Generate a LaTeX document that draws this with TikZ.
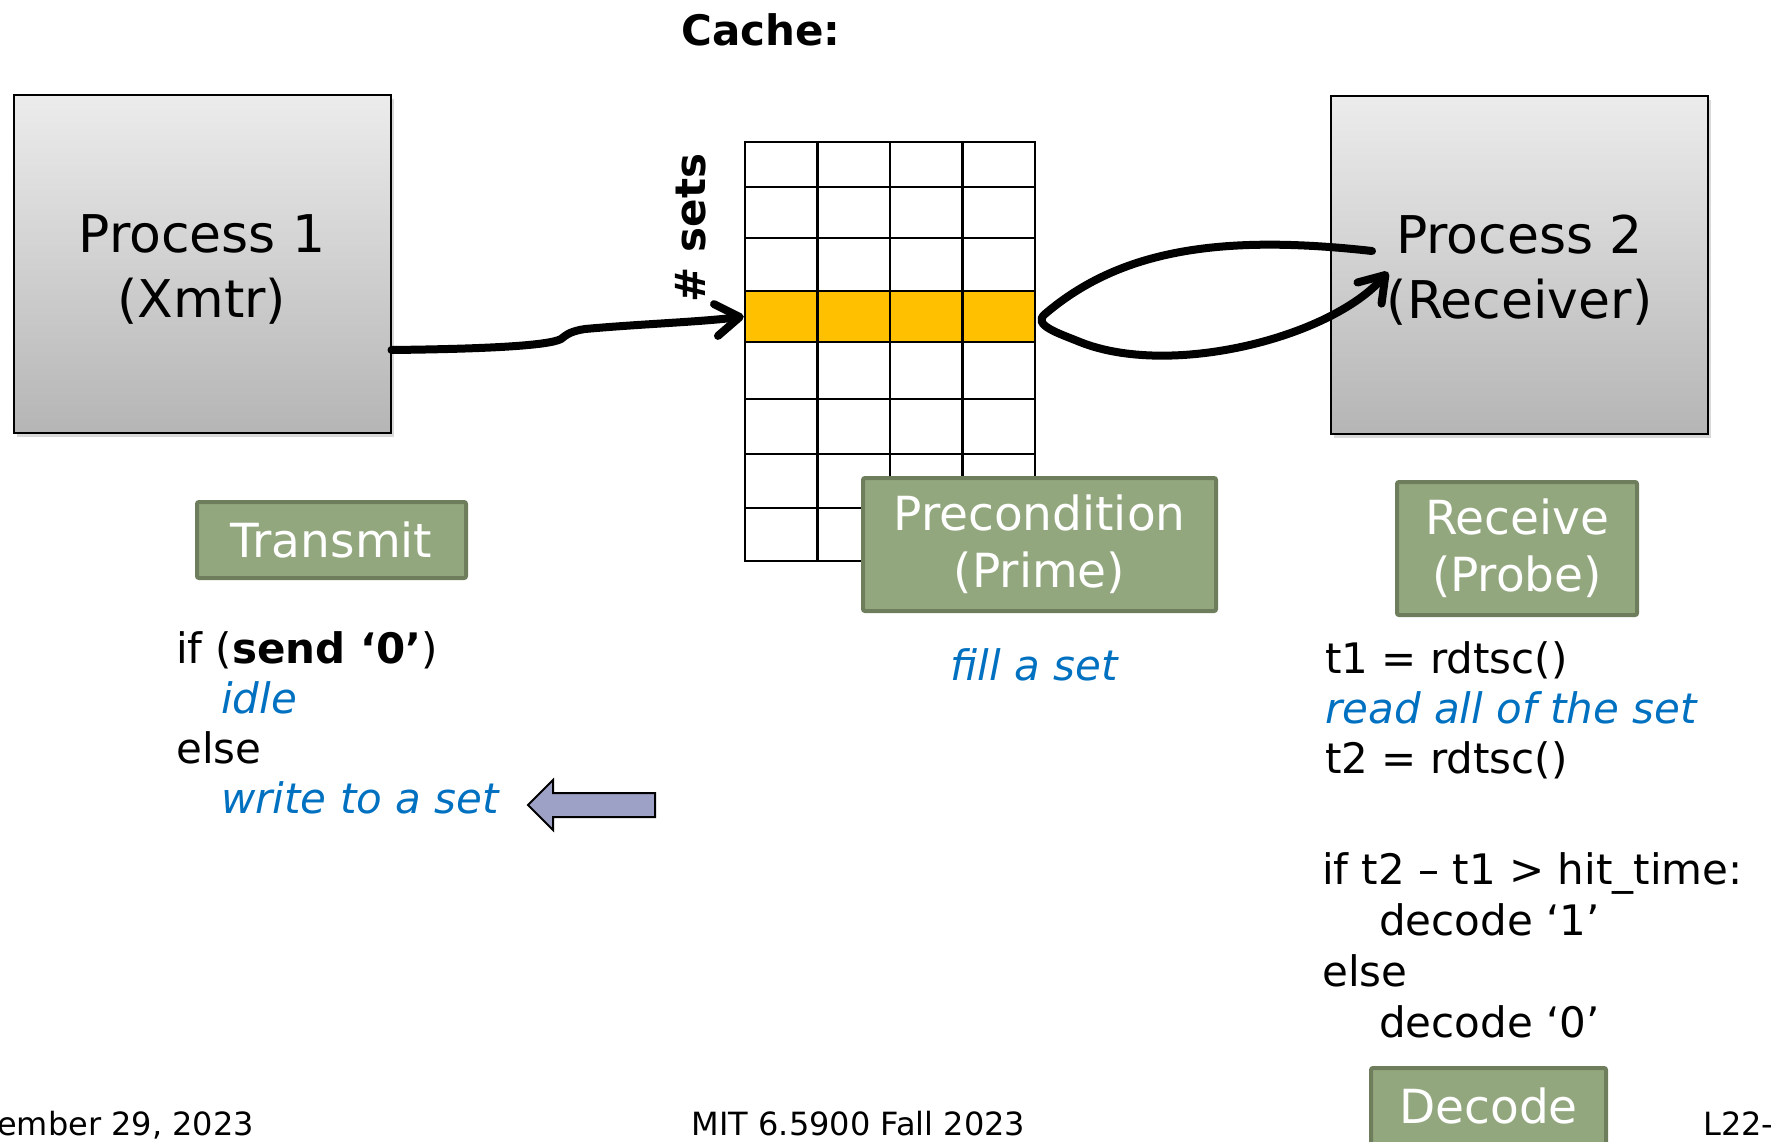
\documentclass[tikz,border=0pt]{standalone}
\usepackage{fontspec}
\setmainfont{DejaVu Sans}
\usetikzlibrary{arrows.meta,shadows}
\definecolor{stagefill}{HTML}{93A77E}
\definecolor{stageedge}{HTML}{6E7E5C}
\definecolor{setyellow}{HTML}{FFC000}
\definecolor{noteblue}{HTML}{0070C0}
\definecolor{pointer}{HTML}{9EA1C6}
\tikzset{
  proc/.style={draw=black, line width=2pt, top color=gray!15, bottom color=gray!58,
    minimum width=377pt, minimum height=338pt, align=center,
    font=\fontsize{52}{65}\selectfont,
    drop shadow={shadow xshift=3pt, shadow yshift=-4pt, opacity=.3}},
  proclabel/.style={align=center, font=\fontsize{52}{65}\selectfont},
  stage/.style={draw=stageedge, fill=stagefill, line width=4pt, rounded corners=2pt,
    text=white, align=center, inner sep=0pt, font=\fontsize{47}{57}\selectfont},
  code/.style={anchor=base west, inner sep=0pt, font=\fontsize{42}{50}\selectfont},
  note/.style={code, text=noteblue, font=\fontsize{42}{50}\selectfont\itshape},
  foot/.style={anchor=base, inner sep=0pt, font=\fontsize{32}{38}\selectfont},
  cell/.style={draw=black, line width=2.5pt, fill=setyellow, minimum width=72.5pt,
    minimum height=51pt, inner sep=0pt},
  wire/.style={line width=8pt, line cap=round,
    -{Straight Barb[length=24pt, width=32pt, round]}}
}
\begin{document}
\begin{tikzpicture}[x=1pt, y=-1pt]
  \useasboundingbox (0,0) rectangle (1776,1141);

  % the two processes
  \node[proc] (p1) at (202,264) {};
  \node[proc] (p2) at (1519.5,265) {};
  \node[proclabel] (p1txt) at (202,269) {Process 1\\(Xmtr)};
  \node[proclabel] (p2txt) at (1519.5,270) {Process 2\\(Receiver)};

  % the cache
  \node[anchor=base, font=\bfseries\fontsize{42}{50}\selectfont] (cache) at (761,45) {Cache:};
  \node[rotate=90, font=\bfseries\fontsize{42}{50}\selectfont] (nsets) at (691,228) {\# sets};
  \draw[line width=2.5pt] (745,142) rectangle (1035,561);
  \foreach \x in {817.5,890,962.5}
    \draw[line width=2.5pt] (\x,142) -- (\x,561);
  \foreach \y in {187,238,291,342,399,454,508}
    \draw[line width=2.5pt] (745,\y) -- (1035,\y);
  \foreach \i in {1,...,4}
    \node[cell] (s\i) at (708.75+72.5*\i,316.5) {};

  % prime + probe arrows
  \coordinate (lpa) at (1372,251);
  \coordinate (lpb) at (1388,272);
  \draw[wire] ([yshift=-86pt]p1.east) .. controls (480,349) and (548,346) .. (561,339)
    .. controls (567,334) and (572,331) .. (585,329)
    .. controls (640,324) and (700,322) .. (s1.west);
  \draw[wire] (lpa) .. controls (1220,234) and (1120,250) .. (1045,314)
    .. controls (1032,325) and (1058,333) .. (1080,342)
    .. controls (1170,378) and (1330,338) .. (lpb);

  % stages
  \node[stage, minimum width=269pt, minimum height=76pt] (tx) at (331.5,540) {Transmit};
  \node[stage, minimum width=353pt, minimum height=133pt] (pr) at (1039.5,544.5) {Precondition\\(Prime)};
  \node[stage, minimum width=240pt, minimum height=133pt] (rc) at (1517,548.5) {Receive\\(Probe)};
  \node[stage, minimum width=235pt, minimum height=76pt] (dc) at (1488.5,1106) {Decode};

  % transmitter code
  \node[code] (t1) at (176,663) {if (\textbf{send ‘0’})};
  \node[note] (t2) at (221,713) {idle};
  \node[code] (t3) at (176,763) {else};
  \node[note] (t4) at (221,813) {write to a set};
  \draw[fill=pointer, line width=2pt] (655,793) -- (553,793) -- (553,780) -- (528,805)
    -- (553,830) -- (553,817) -- (655,817) -- cycle;

  \node[note, anchor=base] (f1) at (1034,680) {fill a set};

  % receiver code
  \node[code] (r1) at (1325,673) {t1 = rdtsc()};
  \node[note] (r2) at (1325,723) {read all of the set};
  \node[code] (r3) at (1325,773) {t2 = rdtsc()};
  \node[code] (r4) at (1322,884) {if t2 – t1 > hit\_time:};
  \node[code] (r5) at (1379,935) {decode ‘1’};
  \node[code] (r6) at (1322,986) {else};
  \node[code] (r7) at (1379,1037) {decode ‘0’};

  % footer
  \node[foot, anchor=base west] (date) at (-3,1135) {ember 29, 2023};
  \node[foot] (course) at (858.5,1135) {MIT 6.5900 Fall 2023};
  \node[foot, anchor=base west] (slide) at (1703,1135) {L22-};
\end{tikzpicture}
\end{document}
